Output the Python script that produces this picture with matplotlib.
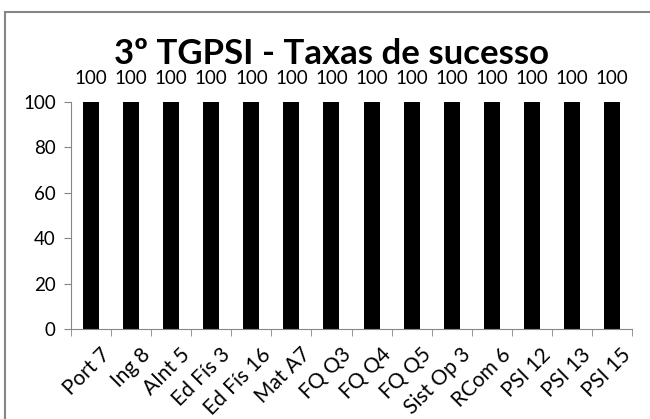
import numpy as np
import matplotlib.pyplot as plt
import matplotlib.transforms as mtransforms
from matplotlib.patches import Rectangle

plt.rcParams['font.family'] = ['Lato', 'DejaVu Sans']

disciplinas = ["Port 7", "Ing 8", "AInt 5", "Ed Fís 3", "Ed Fís 16", "Mat A7",
               "FQ Q3", "FQ Q4", "FQ Q5", "Sist Op 3", "RCom 6", "PSI 12",
               "PSI 13", "PSI 15"]
taxas = [100, 100, 100, 100, 100, 100, 100, 100, 100, 100, 100, 100, 100, 100]
yticks = [0, 20, 40, 60, 80, 100]

fig = plt.figure(figsize=(6.5, 4.19), dpi=100)
ax = fig.add_axes([71 / 650, 1 - 329 / 419, 561 / 650, 227 / 419])

# moldura cinzenta do gráfico
fig.patches.append(Rectangle((5 / 650, -0.1), 1.2, 1 - 12 / 419 + 0.1,
                             transform=fig.transFigure, fill=False,
                             edgecolor="#868686", linewidth=1.5))

x = np.arange(len(disciplinas))
bars = ax.bar(x, taxas, width=0.4, color="black")
for xi, v in zip(x, taxas):
    ax.annotate(str(v), (xi, v), xytext=(0, 13), textcoords="offset points",
                ha="center", va="baseline", fontsize=13.5)

ax.set_xlim(-0.5, len(disciplinas) - 0.5)
ax.set_ylim(0, 100)
ax.set_yticks(yticks)
ax.set_yticklabels([str(t) for t in yticks], fontsize=13.5)
ax.set_xticks(x)
ax.set_xticklabels(disciplinas, rotation=45, ha="right", rotation_mode="anchor",
                   fontsize=15)
ax.tick_params(axis="x", length=0, pad=6)
desloc = mtransforms.ScaledTranslation(0.09, -0.07, fig.dpi_scale_trans)
for lbl in ax.get_xticklabels():
    lbl.set_transform(lbl.get_transform() + desloc)
ax.set_xticks(np.arange(-0.5, len(disciplinas)), minor=True)
ax.tick_params(axis="x", which="minor", length=5, color="#868686")
ax.tick_params(axis="y", length=5, color="#868686", pad=6)

for s in ["top", "right"]:
    ax.spines[s].set_visible(False)
for s in ["left", "bottom"]:
    ax.spines[s].set_color("#868686")

fig.text(331 / 650, 1 - 64 / 419, "3º TGPSI - Taxas de sucesso", ha="center",
         va="baseline", fontsize=25, fontweight="bold")

fig.savefig("out.png", dpi=100, facecolor="white")
